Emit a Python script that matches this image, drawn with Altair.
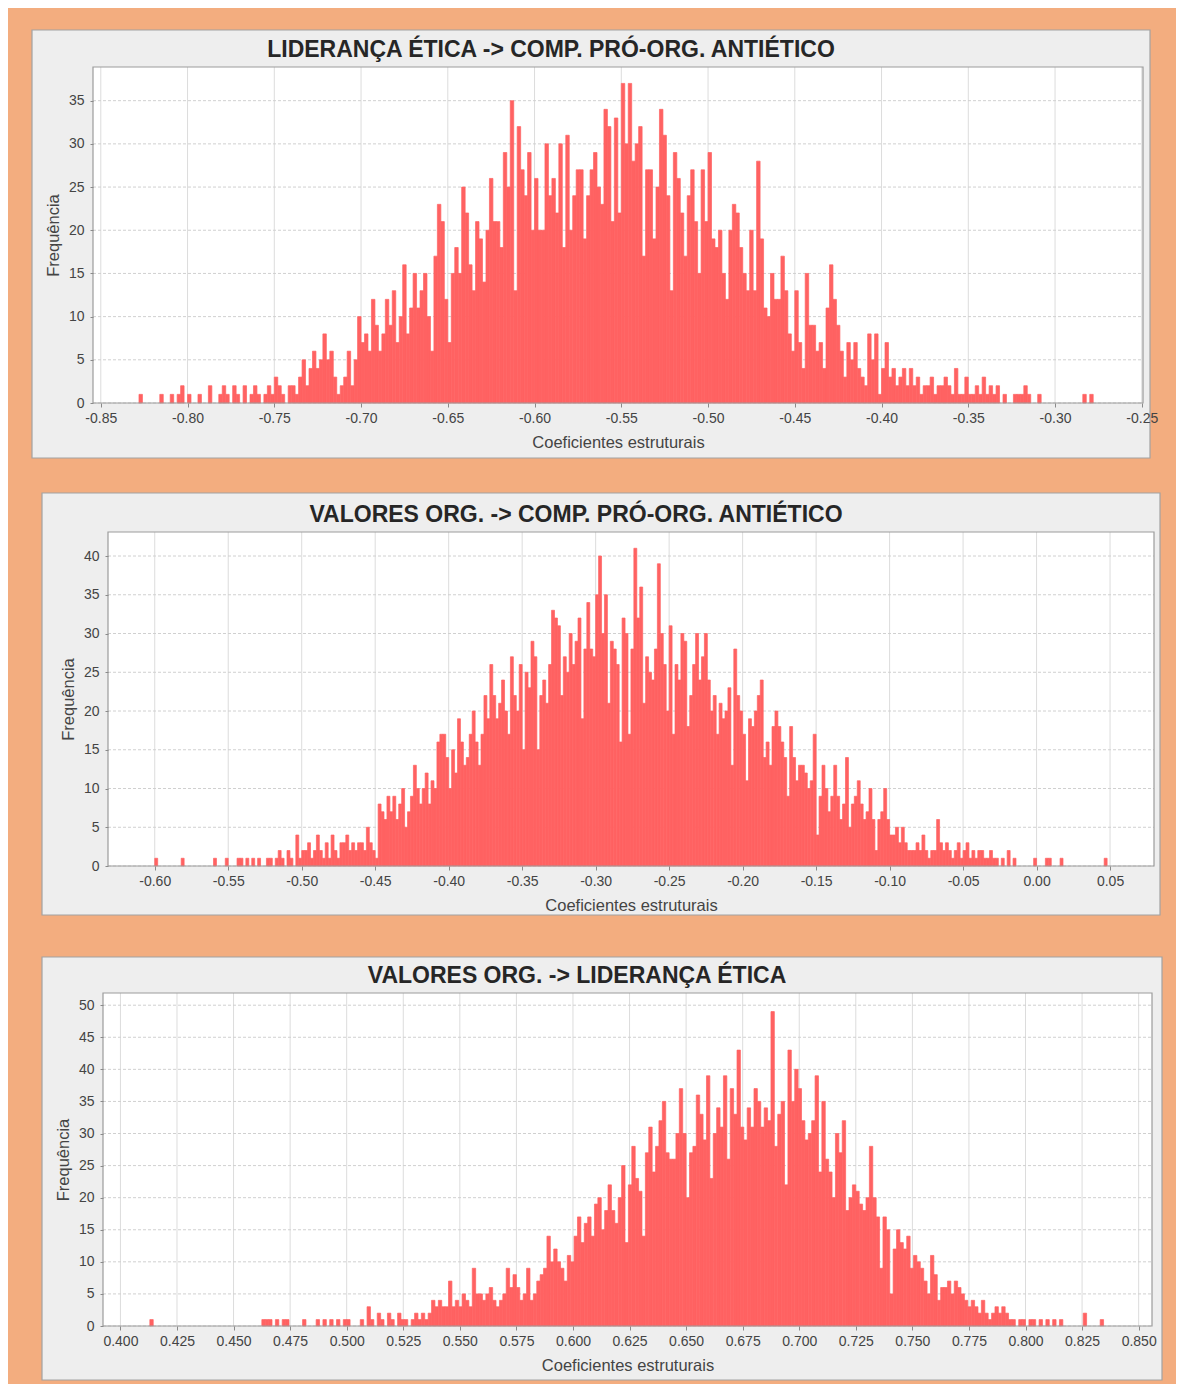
import altair as alt
import pandas as pd

ORANGE = "#F3AD7F"
PANEL = "#EEEEEE"
RED = "#FF6262"
FONT = "Liberation Sans"

TITLES = [
    "LIDERANÇA ÉTICA -> COMP. PRÓ-ORG. ANTIÉTICO",
    "VALORES ORG. -> COMP. PRÓ-ORG. ANTIÉTICO",
    "VALORES ORG. -> LIDERANÇA ÉTICA",
]
X_TITLE = "Coeficientes estruturais"
Y_TITLE = "Frequência"

# histogram bins: first bin start and bin width per panel
BIN_START = [-0.830, -0.610, 0.410]
BIN_STEP = [0.002, 0.002, 0.0015]

COUNTS_1 = [
    0, 1, 0, 0, 0, 0, 0, 1, 0, 0,
    1, 0, 1, 2, 0, 1, 0, 0, 1, 0,
    0, 2, 0, 0, 1, 2, 1, 0, 2, 1,
    0, 2, 0, 1, 2, 1, 0, 1, 2, 1,
    3, 2, 1, 0, 2, 2, 1, 3, 5, 2,
    4, 6, 4, 5, 8, 5, 6, 3, 1, 2,
    3, 6, 2, 5, 10, 7, 8, 6, 12, 9,
    6, 8, 12, 9, 13, 7, 10, 16, 8, 11,
    15, 11, 13, 15, 10, 6, 17, 23, 21, 12,
    7, 15, 18, 15, 25, 22, 16, 13, 21, 19,
    14, 20, 26, 21, 21, 18, 29, 25, 35, 13,
    32, 27, 24, 29, 20, 26, 20, 20, 30, 24,
    26, 22, 30, 18, 31, 20, 24, 27, 27, 19,
    24, 27, 29, 25, 23, 34, 32, 21, 33, 22,
    37, 30, 37, 28, 30, 32, 17, 27, 27, 19,
    25, 34, 31, 24, 13, 29, 26, 22, 17, 24,
    27, 21, 15, 27, 21, 29, 19, 18, 20, 15,
    12, 20, 23, 22, 18, 15, 13, 20, 13, 28,
    19, 11, 10, 15, 12, 12, 17, 13, 8, 6,
    13, 7, 4, 15, 9, 9, 6, 7, 4, 11,
    16, 12, 9, 6, 3, 7, 5, 7, 4, 3,
    2, 8, 5, 8, 1, 4, 7, 3, 4, 2,
    3, 4, 2, 4, 2, 3, 1, 2, 2, 3,
    1, 2, 2, 3, 2, 1, 4, 1, 1, 3,
    1, 1, 2, 1, 3, 1, 2, 1, 2, 0,
    1, 0, 0, 1, 1, 1, 2, 1, 0, 0,
    1, 0, 0, 0, 0, 0, 0, 0, 0, 0,
    0, 0, 0, 1, 0, 1, 0,
]

COUNTS_2 = [
    0, 0, 0, 0, 0, 1, 0, 0, 0, 0,
    0, 0, 0, 0, 1, 0, 0, 0, 0, 0,
    0, 0, 0, 0, 0, 1, 0, 0, 0, 1,
    0, 0, 0, 1, 1, 0, 1, 0, 1, 0,
    1, 0, 0, 1, 1, 0, 1, 2, 1, 0,
    2, 1, 0, 4, 1, 2, 2, 3, 1, 2,
    4, 2, 1, 3, 1, 4, 2, 1, 3, 3,
    4, 2, 3, 2, 3, 3, 2, 5, 3, 2,
    1, 8, 7, 6, 9, 7, 9, 6, 8, 10,
    5, 7, 9, 13, 10, 8, 10, 12, 8, 11,
    10, 16, 17, 17, 14, 10, 15, 12, 19, 16,
    13, 14, 17, 20, 16, 13, 17, 22, 19, 26,
    22, 19, 21, 24, 20, 17, 27, 22, 20, 26,
    15, 25, 23, 29, 27, 15, 22, 24, 21, 26,
    33, 32, 31, 22, 27, 25, 30, 26, 29, 32,
    19, 28, 34, 28, 27, 35, 40, 30, 35, 21,
    29, 28, 26, 16, 32, 30, 17, 28, 41, 32,
    36, 21, 27, 25, 24, 28, 39, 30, 26, 20,
    31, 17, 26, 24, 30, 29, 18, 22, 26, 30,
    24, 27, 30, 24, 20, 22, 17, 21, 19, 20,
    23, 13, 28, 22, 20, 17, 11, 19, 18, 20,
    22, 24, 14, 16, 13, 18, 20, 18, 16, 14,
    9, 18, 14, 11, 13, 13, 12, 10, 11, 17,
    4, 9, 13, 10, 7, 9, 13, 9, 6, 8,
    14, 5, 8, 9, 11, 8, 6, 7, 10, 6,
    2, 6, 7, 10, 6, 4, 4, 5, 3, 5,
    3, 2, 2, 2, 3, 2, 4, 2, 1, 2,
    2, 6, 3, 2, 3, 2, 1, 2, 3, 1,
    2, 3, 1, 2, 1, 2, 2, 1, 1, 2,
    1, 1, 0, 1, 0, 2, 0, 1, 0, 0,
    0, 0, 0, 0, 1, 0, 0, 0, 1, 1,
    0, 0, 0, 1, 0, 0, 0, 0, 0, 0,
    0, 0, 0, 0, 0, 0, 0, 0, 1, 0,
]

COUNTS_3 = [
    0, 0, 1, 0, 0, 0, 0, 0, 0, 0,
    0, 0, 0, 0, 0, 0, 0, 0, 0, 0,
    0, 0, 0, 0, 0, 0, 0, 0, 0, 0,
    0, 0, 0, 0, 0, 1, 1, 1, 0, 1,
    0, 1, 1, 0, 0, 0, 0, 1, 0, 0,
    0, 1, 0, 1, 0, 1, 0, 1, 0, 1,
    1, 0, 0, 0, 1, 0, 3, 1, 0, 2,
    1, 0, 2, 1, 0, 2, 1, 1, 0, 1,
    2, 1, 2, 1, 2, 4, 3, 4, 3, 3,
    7, 3, 4, 3, 5, 4, 3, 9, 5, 5,
    4, 5, 6, 4, 3, 4, 5, 9, 6, 8,
    6, 4, 5, 9, 4, 5, 7, 8, 9, 14,
    10, 12, 10, 9, 7, 11, 10, 14, 17, 13,
    16, 17, 14, 19, 20, 15, 18, 22, 18, 16,
    20, 25, 13, 22, 28, 23, 21, 14, 27, 31,
    24, 28, 32, 35, 27, 26, 26, 30, 37, 30,
    20, 27, 28, 36, 33, 29, 39, 23, 30, 34,
    31, 39, 26, 37, 33, 43, 31, 29, 34, 31,
    37, 35, 31, 34, 32, 49, 28, 33, 35, 22,
    43, 35, 40, 37, 32, 29, 30, 32, 39, 24,
    35, 26, 24, 20, 30, 27, 32, 18, 20, 22,
    21, 19, 18, 20, 28, 20, 17, 9, 17, 15,
    5, 12, 15, 13, 12, 14, 9, 11, 10, 9,
    7, 5, 11, 8, 4, 6, 6, 7, 5, 7,
    6, 5, 4, 3, 4, 3, 2, 4, 2, 1,
    2, 3, 2, 3, 2, 1, 1, 0, 1, 1,
    0, 1, 1, 0, 1, 0, 1, 0, 1, 0,
    1, 0, 0, 0, 0, 0, 0, 2, 0, 0,
    0, 0, 1, 0,
]
COUNTS = [COUNTS_1, COUNTS_2, COUNTS_3]

X_TICKS_1 = [-0.85, -0.80, -0.75, -0.70, -0.65, -0.60, -0.55, -0.50, -0.45,
             -0.40, -0.35, -0.30, -0.25]
X_TICKS_2 = [-0.60, -0.55, -0.50, -0.45, -0.40, -0.35, -0.30, -0.25, -0.20,
             -0.15, -0.10, -0.05, 0.00, 0.05]
X_TICKS_3 = [0.400, 0.425, 0.450, 0.475, 0.500, 0.525, 0.550, 0.575, 0.600,
             0.625, 0.650, 0.675, 0.700, 0.725, 0.750, 0.775, 0.800, 0.825, 0.850]
X_TICKS = [X_TICKS_1, X_TICKS_2, X_TICKS_3]
Y_TICKS_1 = [0, 5, 10, 15, 20, 25, 30, 35]
Y_TICKS_2 = [0, 5, 10, 15, 20, 25, 30, 35, 40]
Y_TICKS_3 = [0, 5, 10, 15, 20, 25, 30, 35, 40, 45, 50]
Y_TICKS = [Y_TICKS_1, Y_TICKS_2, Y_TICKS_3]
X_DOMAIN = [[-0.8545, -0.2493], [-0.6318, 0.0799], [0.3923, 0.8559]]
Y_DOMAIN = [[0, 38.9], [0, 43.1], [0, 51.9]]
LABEL_DECIMALS = [".2f", ".2f", ".3f"]

# ---- layout (pixels in the chart's own frame) ----
CW, CH = 1168, 1376
PLOT = [(85, 1135, 59, 395), (100, 1146, 524, 858), (95, 1144, 985, 1318)]   # L, R, T, B
BOX = [(24, 1142, 22, 450), (34, 1152, 485, 907), (34, 1154, 949, 1372)]
TITLE_POS = [(543, 49), (568, 514), (569, 975)]


def scales(k):
    L, R, T, B = PLOT[k]
    a0, a1 = X_DOMAIN[k]
    sx = (R - L) / (a1 - a0)
    b0, b1 = Y_DOMAIN[k]
    sy = (B - T) / (b1 - b0)
    xs = alt.Scale(domain=[a0 - L / sx, a1 + (CW - R) / sx], nice=False, zero=False)
    ys = alt.Scale(domain=[b0 - (CH - B) / sy, b1 + T / sy], nice=False, zero=False)
    return xs, ys


def panel_layers(k):
    L, R, T, B = PLOT[k]
    counts = COUNTS[k]
    start, step = BIN_START[k], BIN_STEP[k]
    bins = pd.DataFrame({
        "lo": [start + i * step for i in range(len(counts))],
        "count": counts,
    })
    bins["hi"] = bins["lo"] + step
    bins["base"] = 0
    xs, ys = scales(k)
    one = pd.DataFrame({"title": [TITLES[k]]})
    gx0, gx1, gy0, gy1 = BOX[k]
    tx, ty = TITLE_POS[k]
    fmt = LABEL_DECIMALS[k]

    box = alt.Chart(one).mark_rect(fill=PANEL, stroke="#A2A2A2", strokeWidth=1.2).encode(
        x=alt.value(gx0), x2=alt.value(gx1), y=alt.value(gy0), y2=alt.value(gy1))
    plot_bg = alt.Chart(one).mark_rect(fill="white").encode(
        x=alt.value(L), x2=alt.value(R), y=alt.value(T), y2=alt.value(B))
    vgrid = alt.Chart(pd.DataFrame({"gx": X_TICKS[k]})).mark_rule(
        color="#DCDCDC", strokeWidth=1).encode(
        x=alt.X("gx:Q", scale=xs, axis=None), y=alt.value(T), y2=alt.value(B))
    hgrid = alt.Chart(pd.DataFrame({"gy": Y_TICKS[k]})).mark_rule(
        color="#D0D0D0", strokeWidth=1, strokeDash=[3, 2]).encode(
        y=alt.Y("gy:Q", scale=ys, axis=None), x=alt.value(L), x2=alt.value(R))
    bars = alt.Chart(bins).transform_filter(
        "datum.count > 0"
    ).mark_rect(color=RED, stroke=RED, strokeWidth=0.7).encode(
        x=alt.X("lo:Q", scale=xs, axis=alt.Axis(
            orient="bottom", offset=B - CH, values=X_TICKS[k], title=X_TITLE,
            titleX=(L + R) / 2, titleY=39, titleBaseline="middle", titleAlign="center",
            tickSize=4, labelPadding=4, labelFlush=False, labelOverlap=False,
            domain=False, grid=False, zindex=1,
            labelExpr="(datum.value < -0.0000001 ? '-' : '') + format(abs(datum.value), '%s')" % fmt)),
        x2="hi:Q",
        y=alt.Y("count:Q", scale=ys, axis=alt.Axis(
            orient="left", offset=-L, values=Y_TICKS[k], title=Y_TITLE,
            titleX=-40, titleY=(T + B) / 2, titleAngle=270, titleBaseline="middle",
            titleAlign="center", tickSize=3, labelPadding=6, labelOverlap=False,
            labelFlush=False, domain=False, grid=False, zindex=1, format="d")),
        y2="base:Q",
    )
    frame = alt.Chart(one).mark_rect(fillOpacity=0, stroke="#9C9C9C", strokeWidth=1.2).encode(
        x=alt.value(L), x2=alt.value(R), y=alt.value(T), y2=alt.value(B))
    title = alt.Chart(one).mark_text(
        align="center", baseline="alphabetic", font=FONT, fontSize=23,
        fontWeight="bold", color="#262626").encode(
        x=alt.value(tx), y=alt.value(ty), text="title:N")
    return [box, plot_bg, vgrid, hgrid, bars, frame, title]


layers = panel_layers(0) + panel_layers(1) + panel_layers(2)

chart = alt.layer(*layers).resolve_scale(
    x="independent", y="independent"
).properties(
    width=CW, height=CH, padding=0,
    autosize=alt.AutoSizeParams(type="none"),
).configure(
    background=ORANGE, font=FONT,
).configure_view(
    strokeWidth=0,
).configure_axis(
    labelFont=FONT, labelFontSize=14, labelColor="#444444",
    titleFont=FONT, titleFontSize=16.5, titleFontWeight="normal", titleColor="#444444",
    tickColor="#8A8A8A",
)

chart.save("out.html", embed_options={"renderer": "svg", "actions": False})
